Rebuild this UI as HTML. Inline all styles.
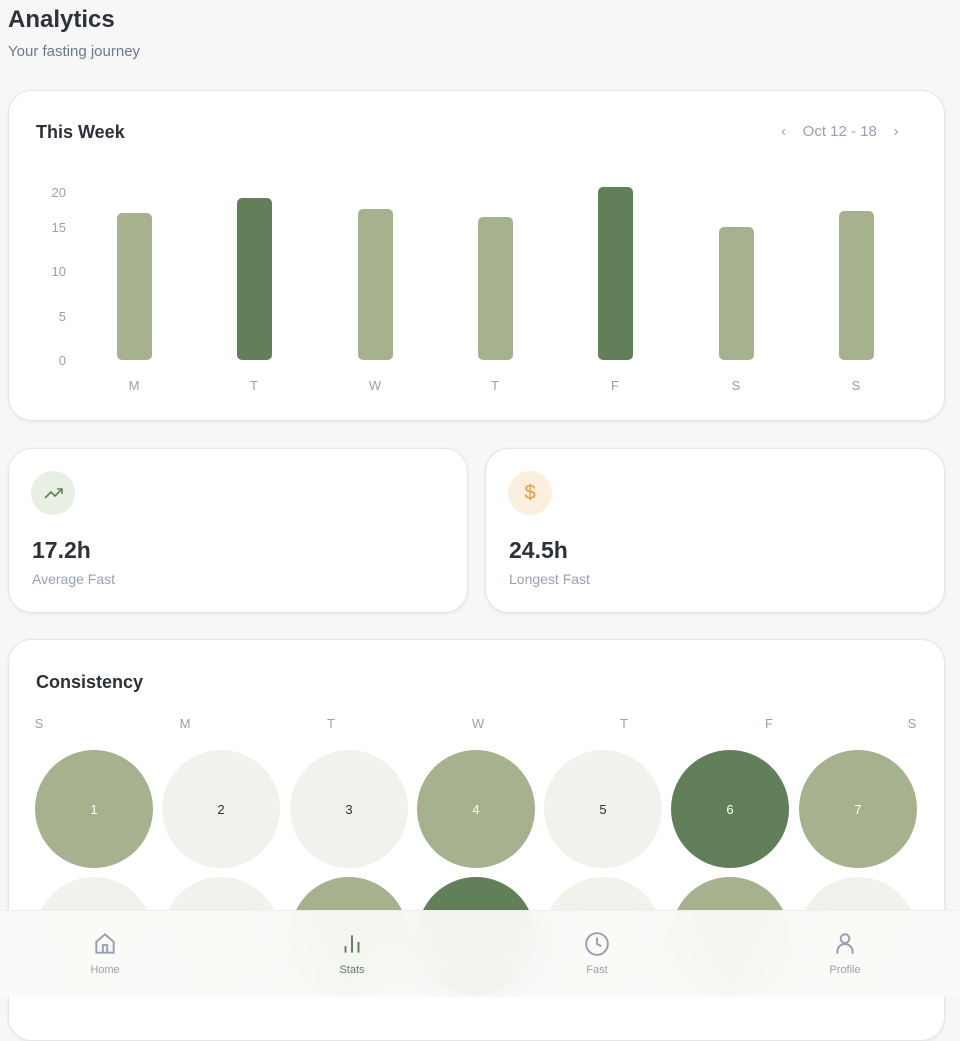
<!DOCTYPE html><html><head><style>
body{margin:0;width:960px;height:996px;background:#f7f7f7;font-family:"Liberation Sans",sans-serif;position:relative;overflow:hidden;color:#2d3138}
.card{position:absolute;background:#fff;border:1px solid #e6e6e6;border-radius:24px;box-shadow:0 1px 3px rgba(0,0,0,.08)}
.a{position:absolute}
.yl{position:absolute;font-size:13px;color:#98a0b2;width:30px;text-align:right}
.bar{position:absolute;width:35px;border-radius:5px}
.xl{position:absolute;top:378px;font-size:13px;color:#98a0b2;width:40px;text-align:center}
.c{position:absolute;width:118px;height:118px;border-radius:50%;display:flex;align-items:center;justify-content:center;font-size:13px}
.L{background:#a6b28e;color:#fff}.D{background:#61805a;color:#fff}.E{background:#f1f2ec;color:#2d3138}
.dl{position:absolute;top:716px;font-size:13px;color:#98a0b2;width:20px;text-align:center}
.nav{position:absolute;top:964px;width:80px;text-align:center;font-size:11px;color:#98a0b2}
</style></head><body>
<div class="a" style="left:8px;top:6px;font-size:24px;font-weight:bold">Analytics</div>
<div class="a" style="left:8px;top:43px;font-size:15px;color:#6d7891">Your fasting journey</div>
<div class="card" style="left:8px;top:90px;width:935px;height:329px"></div>
<div class="a" style="left:36px;top:122px;font-size:18px;font-weight:bold">This Week</div>
<div class="a" style="left:781px;top:123px;font-size:15px;color:#98a0b2">‹&nbsp;&nbsp;&nbsp;&nbsp;Oct 12 - 18&nbsp;&nbsp;&nbsp;&nbsp;›</div>
<div class="yl" style="left:36px;top:185px">20</div><div class="yl" style="left:36px;top:220px">15</div><div class="yl" style="left:36px;top:264px">10</div><div class="yl" style="left:36px;top:309px">5</div><div class="yl" style="left:36px;top:353px">0</div>
<div class="bar" style="left:117px;top:213px;height:147px;background:#a6b28e"></div>
<div class="bar" style="left:237px;top:198px;height:162px;background:#61805a"></div>
<div class="bar" style="left:358px;top:209px;height:151px;background:#a6b28e"></div>
<div class="bar" style="left:478px;top:217px;height:143px;background:#a6b28e"></div>
<div class="bar" style="left:598px;top:187px;height:173px;background:#61805a"></div>
<div class="bar" style="left:719px;top:227px;height:133px;background:#a6b28e"></div>
<div class="bar" style="left:839px;top:211px;height:149px;background:#a6b28e"></div>
<div class="xl" style="left:114px">M</div><div class="xl" style="left:234px">T</div><div class="xl" style="left:355px">W</div><div class="xl" style="left:475px">T</div><div class="xl" style="left:595px">F</div><div class="xl" style="left:716px">S</div><div class="xl" style="left:836px">S</div>
<div class="card" style="left:8px;top:448px;width:458px;height:163px"></div>
<div class="card" style="left:485px;top:448px;width:458px;height:163px"></div>
<svg class="a" style="left:31px;top:471px" width="44" height="44" viewBox="0 0 44 44"><circle cx="22" cy="22" r="22" fill="#e8efe3"/><path d="M14 27l6-6 4 4 7-7M26 18h5v5" fill="none" stroke="#61805a" stroke-width="1.6"/></svg>
<div class="a" style="left:508px;top:471px;width:44px;height:44px;border-radius:50%;background:#fcefdd;color:#e49a3a;text-align:center;line-height:44px;font-size:20px">$</div>
<div class="a" style="left:32px;top:537px;font-size:23px;font-weight:bold">17.2h</div>
<div class="a" style="left:32px;top:571px;font-size:14px;color:#98a0b2">Average Fast</div>
<div class="a" style="left:509px;top:537px;font-size:23px;font-weight:bold">24.5h</div>
<div class="a" style="left:509px;top:571px;font-size:14px;color:#98a0b2">Longest Fast</div>
<div class="card" style="left:8px;top:639px;width:935px;height:400px"></div>
<div class="a" style="left:36px;top:672px;font-size:18px;font-weight:bold">Consistency</div>
<div class="dl" style="left:29px">S</div><div class="dl" style="left:175px">M</div><div class="dl" style="left:321px">T</div><div class="dl" style="left:468px">W</div><div class="dl" style="left:614px">T</div><div class="dl" style="left:759px">F</div><div class="dl" style="left:902px">S</div>
<div class="c L" style="left:35px;top:750px">1</div><div class="c E" style="left:162px;top:750px">2</div><div class="c E" style="left:290px;top:750px">3</div><div class="c L" style="left:417px;top:750px">4</div><div class="c E" style="left:544px;top:750px">5</div><div class="c D" style="left:671px;top:750px">6</div><div class="c L" style="left:799px;top:750px">7</div>
<div class="c E" style="left:35px;top:877px"></div><div class="c E" style="left:162px;top:877px"></div><div class="c L" style="left:290px;top:877px"></div><div class="c D" style="left:417px;top:877px"></div><div class="c E" style="left:544px;top:877px"></div><div class="c L" style="left:671px;top:877px"></div><div class="c E" style="left:799px;top:877px"></div>
<div class="a" style="left:0;top:910px;width:960px;height:86px;background:rgba(250,250,248,.94);backdrop-filter:blur(24px);border-top:1px solid #eee"></div>
<svg class="a" style="left:92px;top:931px" width="26" height="26" viewBox="0 0 24 24" fill="none" stroke="#98a0b2" stroke-width="1.8"><path d="M4 10l8-7 8 7v10H4z M10 20v-7h4v7"/></svg>
<svg class="a" style="left:339px;top:931px" width="26" height="26" viewBox="0 0 24 24" fill="none" stroke="#61805a" stroke-width="1.8"><path d="M6 20v-6M12 20V4M18 20v-10"/></svg>
<svg class="a" style="left:584px;top:931px" width="26" height="26" viewBox="0 0 24 24" fill="none" stroke="#98a0b2" stroke-width="1.8"><circle cx="12" cy="12" r="10"/><path d="M12 6v6l4 2"/></svg>
<svg class="a" style="left:832px;top:931px" width="26" height="26" viewBox="0 0 24 24" fill="none" stroke="#98a0b2" stroke-width="1.8"><circle cx="12" cy="7" r="4"/><path d="M5 21v-2a7 7 0 0114 0v2"/></svg>
<div class="nav" style="left:65px">Home</div><div class="nav" style="left:312px;color:#61805a">Stats</div><div class="nav" style="left:557px">Fast</div><div class="nav" style="left:805px">Profile</div>
</body></html>
